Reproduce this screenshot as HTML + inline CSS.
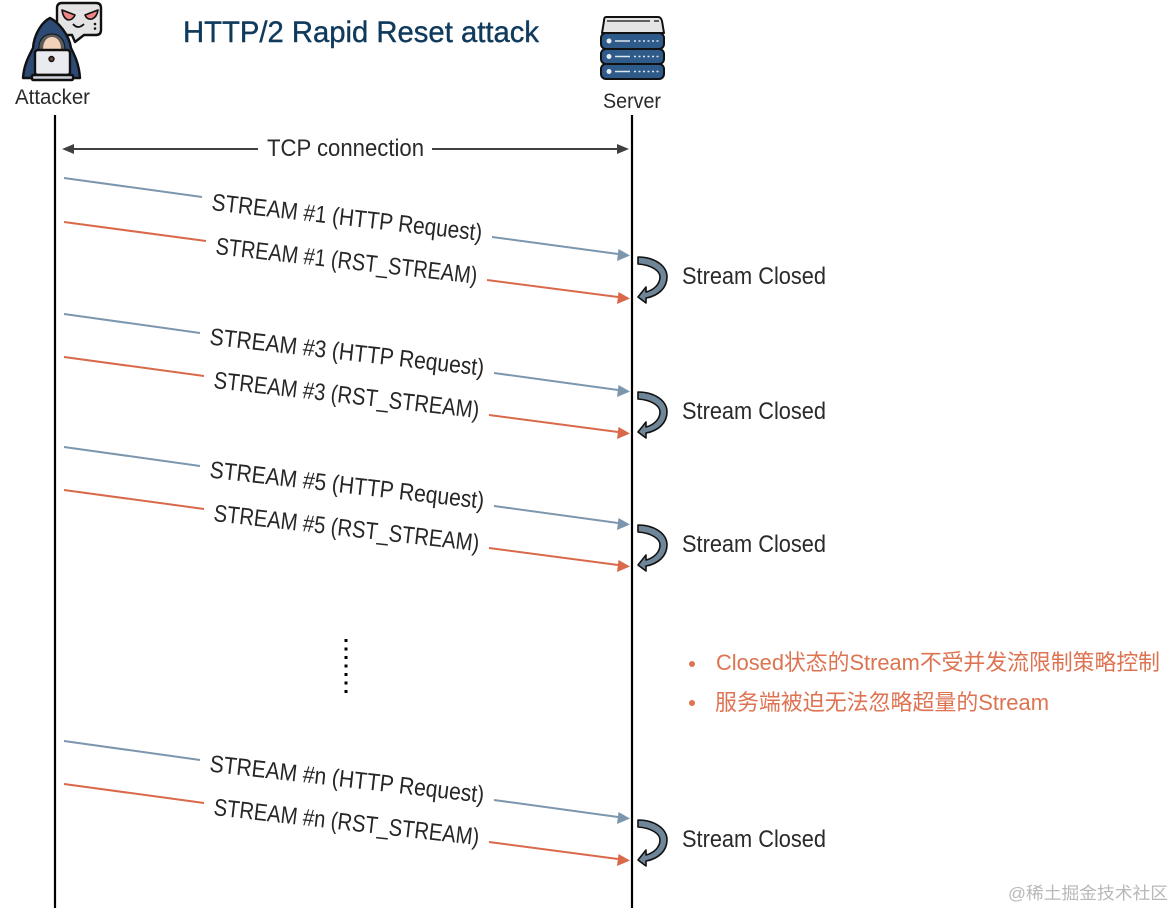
<!DOCTYPE html>
<html><head><meta charset="utf-8">
<style>
html,body{margin:0;padding:0;background:#fff;width:1174px;height:910px;overflow:hidden}
svg{display:block}
text{font-family:"Liberation Sans","Noto Sans CJK SC",sans-serif}
.l{font-size:24px;fill:#262626}
.c{font-size:24px;fill:#2a2a2a}
.b{stroke:#7c97ad;stroke-width:2;fill:none}
.r{stroke:#d9694a;stroke-width:2;fill:none}
.o{font-size:22px;fill:#dd7351}
</style></head>
<body>
<svg width="1174" height="910" viewBox="0 0 1174 910" xmlns="http://www.w3.org/2000/svg">
<defs>
<g id="curl">
<path d="M638 257 C655 257 667 266 667 277 C667 288 658 296 646 298 L646 303 L638 297 L646 287 L646 292 C654 290 660 284 660 277 C660 271 652 265 638 264 Z" fill="#6f8699" stroke="#111" stroke-width="1.6" stroke-linejoin="round"/>
</g>
</defs>

<text x="183" y="42" font-size="30" fill="#103a5c" stroke="#103a5c" stroke-width="0.4" textLength="356" lengthAdjust="spacingAndGlyphs">HTTP/2 Rapid Reset attack</text>

<!-- Attacker icon -->
<g stroke="#111" stroke-width="2.4" stroke-linejoin="round">
<path d="M62 3 H96 Q101 3 101 8 V30 Q101 35 96 35 H84 L75 42 L72 35 H62 Q57 35 57 30 V8 Q57 3 62 3 Z" fill="#e4e4e4"/>
<path d="M62 10 L75 15 Q73 20 68 20 Q63 18 62 10 Z" fill="#ef8585" stroke-width="1.6"/>
<path d="M98 10 L85 15 Q87 20 92 19 Q97 17 98 10 Z" fill="#ef8585" stroke-width="1.6"/>
<path d="M73 24 Q78 30 84 24" fill="none" stroke-width="1.8"/>
<path d="M50 18 C42 22 34 34 33 48 C29 56 24 64 23 78 L80 78 C79 64 75 56 71 48 C69 34 58 22 50 18 Z" fill="#2d4a75"/>
<path d="M39 50 C38 40 44 34 52 34 C60 34 65 40 65 50 Z" fill="#5a5a5a" stroke-width="1"/>
<path d="M43 50 C43 41 47 37 52 37 C57 37 61 41 61 50 Z" fill="#f3d2ba" stroke-width="0"/>
<rect x="35" y="50" width="35" height="25" rx="3" fill="#e9ebf0"/>
<rect x="32" y="75" width="41" height="5" rx="1" fill="#cfd3da"/>
<circle cx="51.500" cy="59" r="2.500" fill="#6b4a2f" stroke-width="1.400"/>
</g>
<circle cx="95" cy="24" r="1.300" fill="#111"/><circle cx="95" cy="28.500" r="1.300" fill="#111"/>
<text x="15" y="104" font-size="21" fill="#2a2a2a" textLength="75" lengthAdjust="spacingAndGlyphs">Attacker</text>

<!-- Server icon -->
<g stroke="#111" stroke-width="2" stroke-linejoin="round">
<path d="M606 17 H658 Q661 17 662 21 L664 33 H602 L604 21 Q604 17 606 17 Z" fill="#e4e4e4"/>
<rect x="601" y="33" width="63" height="16" rx="5" fill="#2e5b8a"/>
<rect x="601" y="49" width="63" height="15" rx="5" fill="#2e5b8a"/>
<rect x="601" y="64" width="63" height="15" rx="5" fill="#2e5b8a"/>
</g>
<g fill="#e9eef3">
<circle cx="609" cy="41" r="2.500"/><circle cx="609" cy="56.500" r="2.500"/><circle cx="609" cy="71.500" r="2.500"/>
</g>
<g stroke="#dce4ec" stroke-width="1.500">
<path d="M615 41 H630 M615 56.500 H630 M615 71.500 H630"/>
<path d="M634 41 H661 M634 56.500 H661 M634 71.500 H661" stroke-dasharray="2 2.500"/>
</g>
<path d="M607 21 H650 M654 21 H659" stroke="#333" stroke-width="1.500"/>
<text x="603" y="108" font-size="21" fill="#2a2a2a" textLength="58" lengthAdjust="spacingAndGlyphs">Server</text>

<!-- Lifelines -->
<path d="M55 115 V908" stroke="#000" stroke-width="2.200"/>
<path d="M632 115 V908" stroke="#000" stroke-width="2.200"/>

<!-- TCP connection -->
<path d="M70 149 H258 M432 149 H620" stroke="#404040" stroke-width="2"/>
<path d="M62 149 L74 144 V154 Z M629 149 L617 144 V154 Z" fill="#404040"/>
<text x="267" y="156" class="c" textLength="157" lengthAdjust="spacingAndGlyphs">TCP connection</text>

<!-- Row 1 -->
<path class="b" d="M64 178 L202 197 M492 237 L618 254"/>
<path d="M630 255.500 L617 261 L618.500 249 Z" fill="#7c97ad"/>
<path class="r" d="M64 222 L206 241 M487 280 L618 297"/>
<path d="M630 298.500 L617 304 L618.500 292 Z" fill="#d9694a"/>
<text class="l" transform="translate(211 210) rotate(6.500)" textLength="272" lengthAdjust="spacingAndGlyphs">STREAM #1 (HTTP Request)</text>
<text class="l" transform="translate(215 254) rotate(6.500)" textLength="263" lengthAdjust="spacingAndGlyphs">STREAM #1 (RST_STREAM)</text>
<use href="#curl"/>
<text x="682" y="284" class="c" textLength="144" lengthAdjust="spacingAndGlyphs">Stream Closed</text>

<!-- Row 2 -->
<path class="b" d="M64 314 L200 333 M494 373 L618 390"/>
<path d="M630 391.500 L617 397 L618.500 385 Z" fill="#7c97ad"/>
<path class="r" d="M64 357 L204 376 M489 415 L618 432"/>
<path d="M630 433.500 L617 439 L618.500 427 Z" fill="#d9694a"/>
<text class="l" transform="translate(209 344.500) rotate(6.500)" textLength="276" lengthAdjust="spacingAndGlyphs">STREAM #3 (HTTP Request)</text>
<text class="l" transform="translate(213 388) rotate(6.500)" textLength="267" lengthAdjust="spacingAndGlyphs">STREAM #3 (RST_STREAM)</text>
<use href="#curl" y="135"/>
<text x="682" y="419" class="c" textLength="144" lengthAdjust="spacingAndGlyphs">Stream Closed</text>

<!-- Row 3 -->
<path class="b" d="M64 447 L200 466 M494 506 L618 523"/>
<path d="M630 524.500 L617 530 L618.500 518 Z" fill="#7c97ad"/>
<path class="r" d="M64 490 L204 509 M489 548 L618 565"/>
<path d="M630 566.500 L617 572 L618.500 560 Z" fill="#d9694a"/>
<text class="l" transform="translate(209 477.500) rotate(6.500)" textLength="276" lengthAdjust="spacingAndGlyphs">STREAM #5 (HTTP Request)</text>
<text class="l" transform="translate(213 521) rotate(6.500)" textLength="267" lengthAdjust="spacingAndGlyphs">STREAM #5 (RST_STREAM)</text>
<use href="#curl" y="268"/>
<text x="682" y="552" class="c" textLength="144" lengthAdjust="spacingAndGlyphs">Stream Closed</text>

<!-- Dots -->
<path d="M346 639 V693" stroke="#000" stroke-width="3" stroke-dasharray="3 5.500"/>

<!-- Notes -->
<circle cx="692" cy="664" r="3" fill="#dd7351"/>
<circle cx="692" cy="703" r="3" fill="#dd7351"/>
<text x="716" y="670" class="o" textLength="444" lengthAdjust="spacingAndGlyphs">Closed状态的Stream不受并发流限制策略控制</text>
<text x="715" y="710" class="o" textLength="334" lengthAdjust="spacingAndGlyphs">服务端被迫无法忽略超量的Stream</text>

<!-- Row 4 -->
<path class="b" d="M64 741 L200 760 M494 800 L618 817"/>
<path d="M630 818.500 L617 824 L618.500 812 Z" fill="#7c97ad"/>
<path class="r" d="M64 784 L204 803 M489 842 L618 859"/>
<path d="M630 860.500 L617 866 L618.500 854 Z" fill="#d9694a"/>
<text class="l" transform="translate(209 771.500) rotate(6.500)" textLength="276" lengthAdjust="spacingAndGlyphs">STREAM #n (HTTP Request)</text>
<text class="l" transform="translate(213 815) rotate(6.500)" textLength="267" lengthAdjust="spacingAndGlyphs">STREAM #n (RST_STREAM)</text>
<use href="#curl" y="563"/>
<text x="682" y="847" class="c" textLength="144" lengthAdjust="spacingAndGlyphs">Stream Closed</text>

<!-- Watermark -->
<text x="1008" y="899" font-size="17" fill="#b8b8b8" textLength="160" lengthAdjust="spacingAndGlyphs">@稀土掘金技术社区</text>
</svg>
</body></html>
